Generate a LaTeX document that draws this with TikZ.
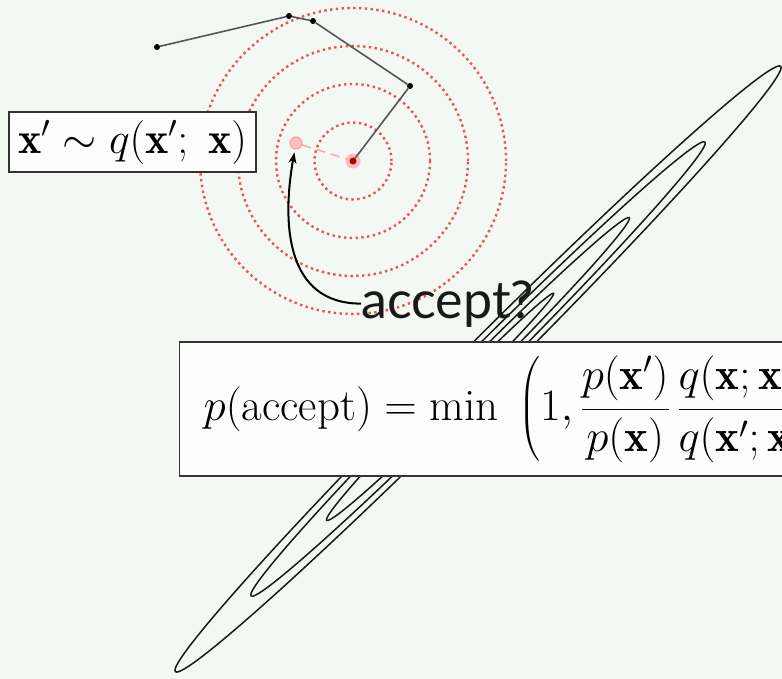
\RequirePackage{fix-cm}
\documentclass[tikz,border=0pt]{standalone}
\usepackage{amsmath}
\usepackage{fontspec}
\usetikzlibrary{arrows.meta}
\newfontfamily\labelfont{Lato}
\definecolor{bgcol}{RGB}{244,248,243}
\definecolor{boxcol}{RGB}{252,253,252}
\definecolor{ringred}{RGB}{230,85,85}
\definecolor{walkgray}{RGB}{85,85,85}
\tikzset{
  mathbox/.style={draw=black!80, fill=boxcol, line width=1.3pt, inner sep=0pt},
  pathdot/.style={circle, fill=black, inner sep=0pt, minimum size=6pt},
  walk/.style={draw=walkgray, line width=1.6pt},
  ring/.style={draw=ringred, line width=2.4pt, dash pattern=on 2.4pt off 3.4pt},
  contour/.style={draw=black!90, line width=1.5pt},
}
\begin{document}
\begin{tikzpicture}[x=1pt, y=1pt]
  \useasboundingbox (0,0) rectangle (782,-679);
  \clip (0,0) rectangle (782,-679);
  \fill[bgcol] (0,0) rectangle (782,-679);
  % target density, long thin contours
  \foreach \k in {1,...,4}
    \draw[contour, rotate around={45:(478,-369)}] (478,-369)
      ellipse [x radius=107*\k, y radius=5.6*\k];
  % proposal rings round the current state
  \foreach \r in {38.5,77,115,153}
    \draw[ring] (353,-161) circle (\r);
  % chain so far
  \node[pathdot] (s1) at (157,-47) {};
  \node[pathdot] (s2) at (289,-16) {};
  \node[pathdot] (s3) at (313,-21) {};
  \node[pathdot] (s4) at (410,-86) {};
  \fill[red!35, opacity=0.7] (353,-161) circle (7.5);
  \node[circle, fill=red!65!black, inner sep=0pt, minimum size=7pt] (cur) at (353,-161) {};
  \draw[walk] (s1) -- (s2) -- (s3) -- (s4) -- (cur);
  % proposed state
  \node[circle, fill=red!25, draw=red!40, line width=1pt, inner sep=0pt,
    minimum size=12pt] (prop) at (296,-143) {};
  \draw[red!35, line width=1.5pt, dash pattern=on 9pt off 6pt] (prop) -- (cur);
  % proposal box
  \node[mathbox, minimum width=247pt, minimum height=60pt,
    font=\fontsize{44}{52}\selectfont] (qbox) at (132.5,-142)
    {$\mathbf{x}' \sim q(\mathbf{x}';\;\mathbf{x})$};
  % question
  \node[anchor=base west, inner sep=0pt, font=\labelfont\fontsize{52}{60}\selectfont,
    text=black!90] (accept) at (361,-318) {accept?};
  \draw[-{Stealth[length=11pt, width=8pt]}, line width=2pt, shorten >=3pt] (accept.west)
    to[out=180, in=-100, looseness=1.15] (prop);
  % acceptance probability
  \node[mathbox, anchor=west, inner xsep=24pt, minimum height=134pt,
    font=\fontsize{45}{54}\selectfont] (pacc) at (179,-409)
    {$\displaystyle p(\text{accept}) = \min\;\,\biggl(1,
      \frac{p(\mathbf{x}')}{p(\mathbf{x})}\,
      \frac{q(\mathbf{x};\mathbf{x}')}{q(\mathbf{x}';\mathbf{x})}\biggr)$};
\end{tikzpicture}
\end{document}
